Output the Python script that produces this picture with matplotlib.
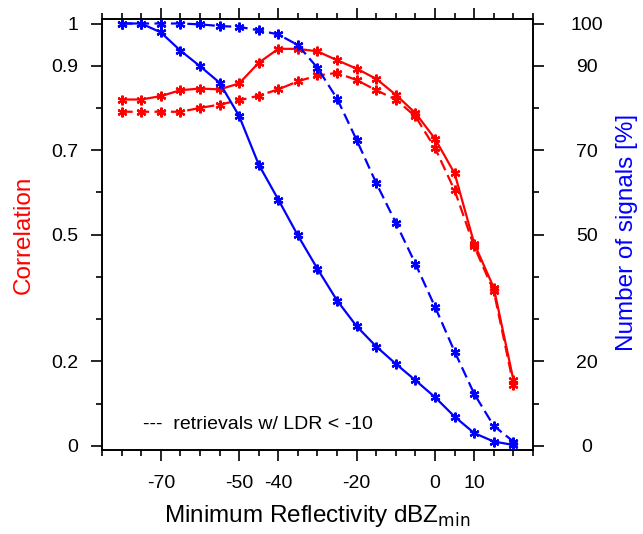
import matplotlib
matplotlib.use("Agg")
import matplotlib.pyplot as plt
from matplotlib.ticker import MultipleLocator

plt.rcParams['font.family'] = ['Liberation Sans', 'DejaVu Sans']

# ----------------------------------------
# Data: minimum reflectivity vs. correlation / number of signals
# ----------------------------------------
dbz_min = [-80, -75, -70, -65, -60, -55, -50, -45, -40, -35, -30,
           -25, -20, -15, -10, -5, 0, 5, 10, 15, 20]

# correlation, all retrievals (solid red)
corr_all = [0.820, 0.820, 0.828, 0.842, 0.846, 0.844, 0.858, 0.907, 0.940, 0.940, 0.934,
            0.913, 0.893, 0.869, 0.831, 0.788, 0.727, 0.645, 0.479, 0.374, 0.156]
# correlation, retrievals w/ LDR < -10 (dashed red)
corr_ldr = [0.791, 0.791, 0.791, 0.791, 0.800, 0.808, 0.818, 0.829, 0.844, 0.863, 0.877,
            0.883, 0.866, 0.842, 0.820, 0.780, 0.705, 0.605, 0.472, 0.366, 0.145]

# number of signals [%], all (solid blue)
sig_all = [100.0, 100.0, 97.9, 93.6, 89.9, 86.0, 78.1, 66.6, 58.3, 49.8, 41.9,
           34.4, 28.3, 23.5, 19.4, 15.5, 11.5, 6.9, 3.0, 1.0, 0.2]
# number of signals [%], LDR < -10 (dashed blue)
sig_ldr = [100.0, 100.0, 100.0, 100.0, 99.8, 99.4, 99.2, 98.4, 97.4, 94.9, 89.5,
           82.2, 72.4, 62.2, 52.8, 43.1, 32.9, 22.3, 12.3, 4.7, 1.0]

x_major = [-70, -50, -40, -20, 0, 10]
corr_ticks = [0, 0.2, 0.5, 0.7, 0.9, 1]
corr_labels = ['0', '0.2', '0.5', '0.7', '0.9', '1']
corr_minor = [0.1, 0.3, 0.4, 0.6, 0.8]
sig_ticks = [0, 20, 50, 70, 90, 100]
sig_minor = [10, 30, 40, 60, 80]

# ----------------------------------------
# Figure
# ----------------------------------------
fig = plt.figure(figsize=(6.43, 5.34), dpi=100)
ax = fig.add_axes([0.1586, 0.1573, 0.6703, 0.8066])
ax2 = ax.twinx()

mk = dict(marker=(6, 2, 0), markersize=7, markeredgewidth=1.6)
dash = (5, 2.4)

ax.plot(dbz_min, corr_all, color='red', lw=1.6, **mk)
ax.plot(dbz_min, corr_ldr, color='red', lw=1.6, dashes=dash, **mk)
ax2.plot(dbz_min, sig_all, color='blue', lw=1.6, **mk)
ax2.plot(dbz_min, sig_ldr, color='blue', lw=1.6, dashes=dash, **mk)

ax.set_xlim(-85, 25)
ax.set_ylim(-0.01, 1.01)
ax2.set_ylim(-1, 101)

ax.set_xticks(x_major)
ax.set_xticklabels([str(v) for v in x_major])
ax.xaxis.set_minor_locator(MultipleLocator(5))
ax.set_yticks(corr_ticks)
ax.set_yticklabels(corr_labels)
ax.set_yticks(corr_minor, minor=True)
ax2.set_yticks(sig_ticks)
ax2.set_yticklabels([str(v) for v in sig_ticks])
ax2.set_yticks(sig_minor, minor=True)

# ticks pointing outward on all sides
ax.tick_params(which='both', direction='out', top=True, right=False, width=1.2,
               labelsize=14)
ax.tick_params(which='major', length=8)
ax.tick_params(which='minor', length=4.5)
ax.tick_params(axis='x', which='major', pad=10)
ax.tick_params(axis='y', which='major', pad=9)
ax2.tick_params(which='both', direction='out', width=1.2, labelsize=14)
ax2.tick_params(which='major', length=8, pad=31)
ax2.tick_params(which='minor', length=4.5)
for lab in ax2.get_yticklabels():
    lab.set_ha('center')

for a in (ax, ax2):
    for s in a.spines.values():
        s.set_linewidth(1.2)

ax.set_xlabel(r"Minimum Reflectivity dBZ$_{\mathrm{min}}$", fontsize=17.5, labelpad=8)
fig.text(0.037, 0.56, "Correlation", color='red', fontsize=17.5,
         rotation=90, ha='center', va='center')
fig.text(0.975, 0.565, "Number of signals [%]", color='blue', fontsize=17.5,
         rotation=90, ha='center', va='center')

ax.text(-74.5, 0.05, "---  retrievals w/ LDR < -10", fontsize=14, va='center')

fig.savefig("out.png", dpi=100)
